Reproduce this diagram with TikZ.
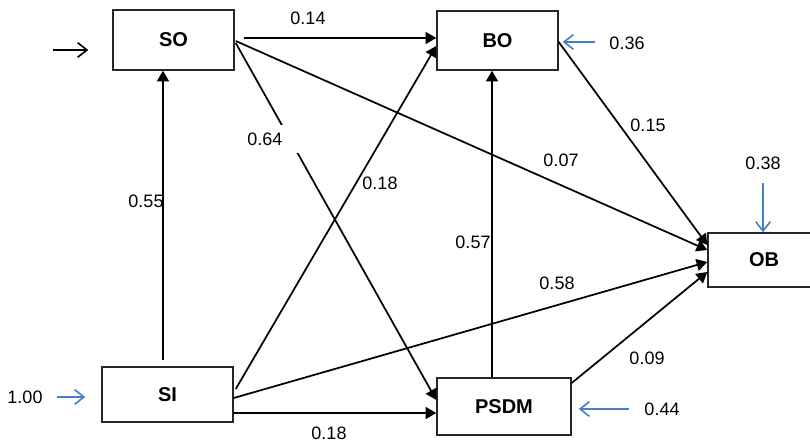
\documentclass[tikz,border=0pt]{standalone}
\usepackage{fontspec}
\setmainfont{Liberation Sans}
\usetikzlibrary{arrows.meta,calc}
\definecolor{eblue}{HTML}{4A7EC4}
\tikzset{
  box/.style={draw=black!85, line width=1.1pt, inner sep=0pt, font=\fontsize{15}{18}\selectfont\bfseries},
  num/.style={inner sep=0pt, font=\fontsize{13.5}{16}\selectfont},
  arr/.style={line width=1.3pt, -{Triangle[length=8pt,width=9pt]}},
  barb/.style={line width=1.2pt, -{Straight Barb[length=7pt,width=11pt]}},
  earr/.style={barb, draw=eblue},
}
\begin{document}
\begin{tikzpicture}[x=0.75pt,y=-0.75pt]
\useasboundingbox (0,0) rectangle (810,441);
% nodes
\node[box, minimum width=90.75pt, minimum height=45pt] (SO) at (173.5,40) {SO};
\node[box, minimum width=90.75pt, minimum height=44.25pt] (BO) at (497.5,40.5) {BO};
\node[box, minimum width=84pt, minimum height=40.5pt] (OB) at (764,260) {OB};
\node[box, minimum width=98.25pt, minimum height=41.25pt] (SI) at (167.5,394.5) {SI};
\node[box, minimum width=100.5pt, minimum height=42.75pt] (PSDM) at (504,406.5) {PSDM};
% connectors
\draw[arr] ($(SO.east)+(9,-2)$) -- ($(BO.west)+(0,-2.5)$);
\draw[arr] ($(SO.east)+(1,1)$) -- ($(OB.west)+(0,-10)$);
\draw[arr] ($(SO.east)+(1,3)$) -- ($(PSDM.west)+(0,-6.5)$);
\draw[arr] ($(SI.east)+(2,-5.5)$) -- ($(BO.west)+(0,5.5)$);
\draw[arr] ($(SI.east)+(0,3.5)$) -- ($(OB.west)+(0,2)$);
\draw[arr] ($(SI.east)+(0,18.5)$) -- ($(PSDM.west)+(0,6.5)$);
\draw[arr] ($(SI.north)+(-4.5,-6)$) -- ($(SO.south)+(-10.5,0)$);
\draw[arr] ($(PSDM.north)+(-12,0)$) -- ($(BO.south)+(-5.5,0)$);
\draw[arr] ($(PSDM.east)+(0,-23.5)$) -- ($(OB.west)+(0,12)$);
\draw[arr] ($(BO.east)+(0,1.5)$) -- ($(OB.west)+(0,-15)$);
% error arrows
\coordinate (eSO) at (53,50);
\coordinate (eBO) at (595,42);
\coordinate (eOB) at (763,183);
\coordinate (eSI) at (57,397);
\coordinate (ePSDM) at (629,409);
\draw[barb] (eSO) -- ($(SO.west)+(-24,10)$);
\draw[earr] (eBO) -- ($(BO.east)+(4,1.5)$);
\draw[earr] (eOB) -- ($(OB.north)+(-1,0)$);
\draw[earr] (eSI) -- ($(SI.west)+(-16,2.5)$);
\draw[earr] (ePSDM) -- ($(PSDM.east)+(7,2.5)$);
% labels
\node[num] (l1) at (308,18) {0.14};
\node[num, fill=white, anchor=west, text width=40pt, align=left, minimum height=21pt] (l2) at (247,139) {0.64};
\node[num] (l3) at (561,160) {0.07};
\node[num] (l4) at (648,125) {0.15};
\node[num] (l5) at (380,183) {0.18};
\node[num] (l6) at (146,201) {0.55};
\node[num] (l7) at (473,242) {0.57};
\node[num] (l8) at (557,283) {0.58};
\node[num] (l9) at (647,358) {0.09};
\node[num] (l10) at (329,433) {0.18};
\node[num] (r1) at (627,43) {0.36};
\node[num] (r2) at (763,163) {0.38};
\node[num] (r3) at (25,397) {1.00};
\node[num] (r4) at (662,409) {0.44};
\end{tikzpicture}
\end{document}
